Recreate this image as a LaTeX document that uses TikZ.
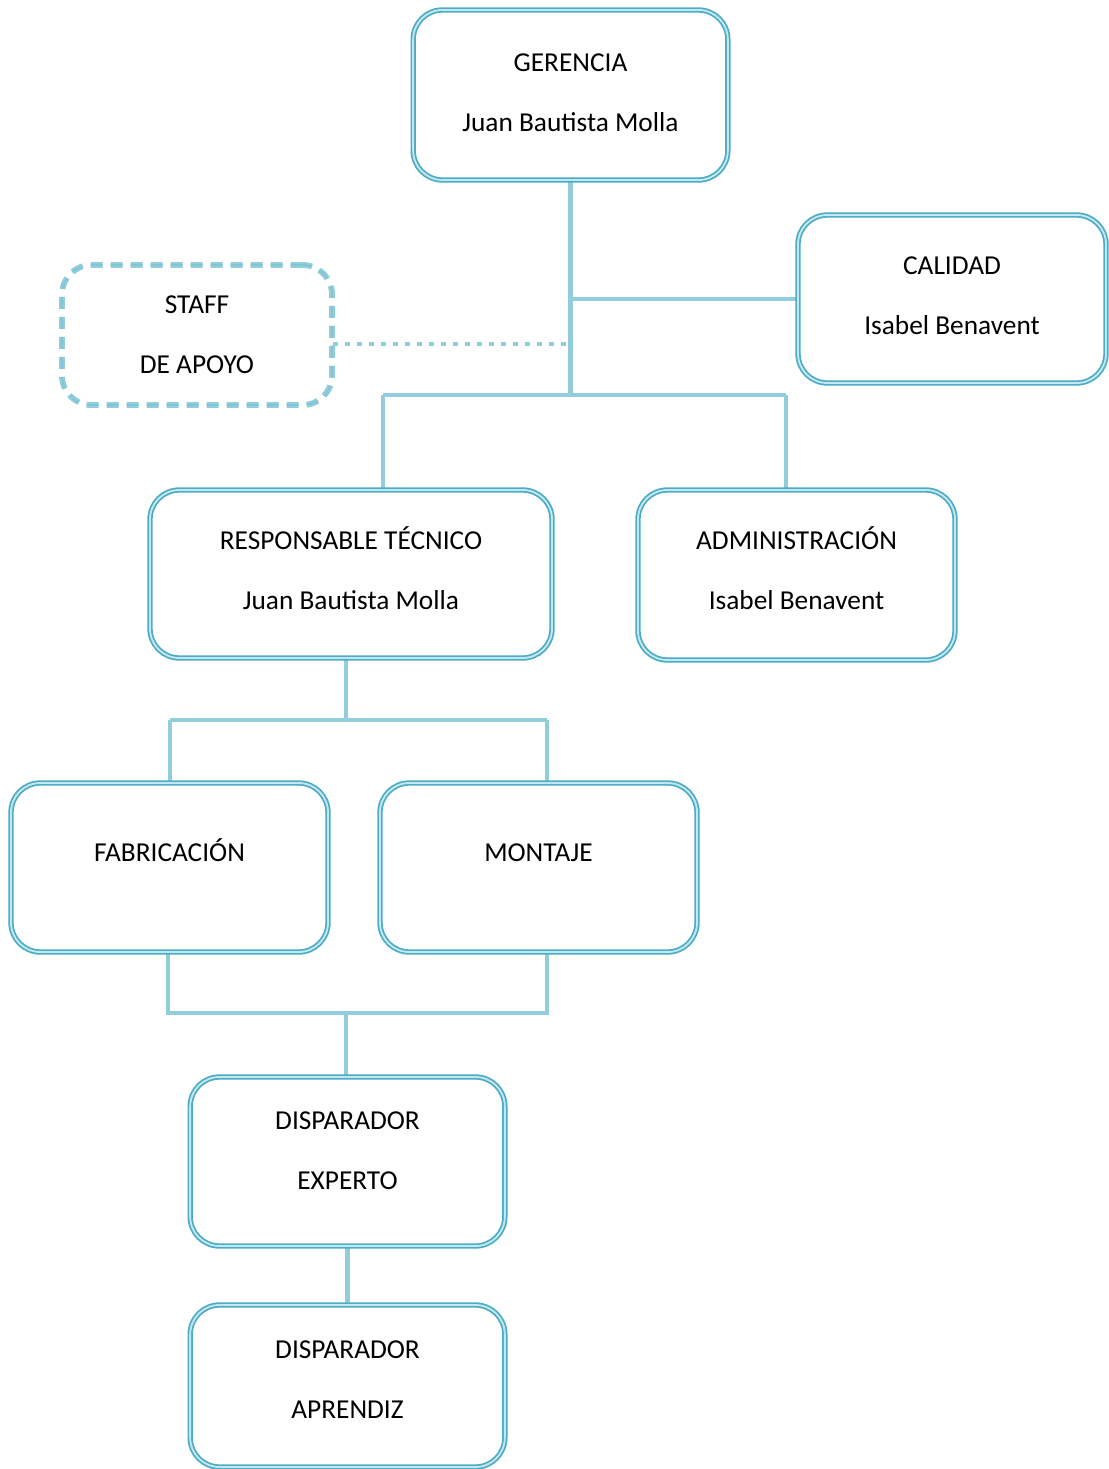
\documentclass[tikz,border=0pt]{standalone}
\usepackage{fontspec}
\setmainfont{Carlito}
\usetikzlibrary{backgrounds}

\definecolor{boxblue}{RGB}{75,172,198}
\definecolor{gapblue}{RGB}{196,230,239}
\definecolor{linkblue}{RGB}{146,205,220}

\tikzset{every picture/.style={line width=0.75pt}}
\tikzset{
  orgbox/.style={draw=boxblue, line width=1.3pt, double=gapblue, double distance=1.4pt,
    rounded corners=22pt, fill=white, align=center, inner sep=0pt, text depth=9pt,
    font=\fontsize{20.5}{24}\selectfont},
  onebox/.style={orgbox, text height=15pt, text depth=24pt},
  staffbox/.style={orgbox, text depth=0pt, draw=linkblue, line width=1.6pt, double=boxblue!70,
    double distance=1.2pt, dash pattern=on 9pt off 6pt},
  link/.style={draw=linkblue, line width=3.6pt},
  dotlink/.style={draw=linkblue, line width=3.6pt, dash pattern=on 3.6pt off 5.4pt}
}

\begin{document}
\begin{tikzpicture}[x=0.75pt,y=0.75pt,yscale=-1,xscale=1]
\useasboundingbox (0,0) rectangle (1108,1469);

%Boxes
\node [orgbox, minimum width=236pt, minimum height=127.5pt, text depth=4pt] (ger) at (570.5,95) {GERENCIA\\[21pt]Juan Bautista Molla};
\node [orgbox, minimum width=231pt, minimum height=126pt, text depth=5pt] (cal) at (952,299) {CALIDAD\\[21pt]Isabel Benavent};
\node [staffbox, minimum width=202.5pt, minimum height=105pt] (staff) at (197,335) {STAFF\\[21pt]DE APOYO};
\node [orgbox, minimum width=301.5pt, minimum height=126pt] (resp) at (351,574) {RESPONSABLE TÉCNICO\\[21pt]Juan Bautista Molla};
\node [orgbox, minimum width=237.75pt, minimum height=127.5pt, text depth=10pt] (admin) at (796.5,575) {ADMINISTRACIÓN\\[21pt]Isabel Benavent};
\node [onebox, minimum width=237.75pt, minimum height=126.75pt] (fab) at (169.5,867.5) {FABRICACIÓN};
\node [onebox, minimum width=237.75pt, minimum height=126.75pt] (mont) at (538.5,867.5) {MONTAJE};
\node [orgbox, minimum width=236pt, minimum height=126.75pt, text depth=16pt] (exp) at (347.5,1161.5) {DISPARADOR\\[21pt]EXPERTO};
\node [orgbox, minimum width=236pt, minimum height=121.5pt] (apr) at (347.5,1386) {DISPARADOR\\[21pt]APRENDIZ};

%Junctions
\coordinate (busL) at (383,395);
\coordinate (busR) at (786,395);
\coordinate (tecL) at (170,720);
\coordinate (tecR) at (547,720);
\coordinate (tecM) at (346,720);
\coordinate (bajL) at (168,1013);
\coordinate (bajR) at (547,1013);
\coordinate (bajM) at (346,1013);

%Connectors
\begin{scope}[on background layer]
\draw [link] (ger.south) -- (ger.south |- busL);
\draw [link] (ger.south |- cal.west) -- (cal.west);
\draw [dotlink] ([yshift=6.75pt]staff.east) -- ([yshift=6.75pt]staff.east -| ger.south);
\draw [link] (busL) -- (busR);
\draw [link] (busL) -- (busL |- resp.north);
\draw [link] (busR) -- (busR |- admin.north);
\draw [link] (tecM |- resp.south) -- (tecM);
\draw [link] (tecL) -- (tecR);
\draw [link] (tecL) -- (tecL |- fab.north);
\draw [link] (tecR) -- (tecR |- mont.north);
\draw [link] (bajL |- fab.south) -- (bajL) -- (bajR) -- (bajR |- mont.south);
\draw [link] (bajM) -- (bajM |- exp.north);
\draw [link] (exp.south) -- (apr.north);
\end{scope}

\end{tikzpicture}
\end{document}
